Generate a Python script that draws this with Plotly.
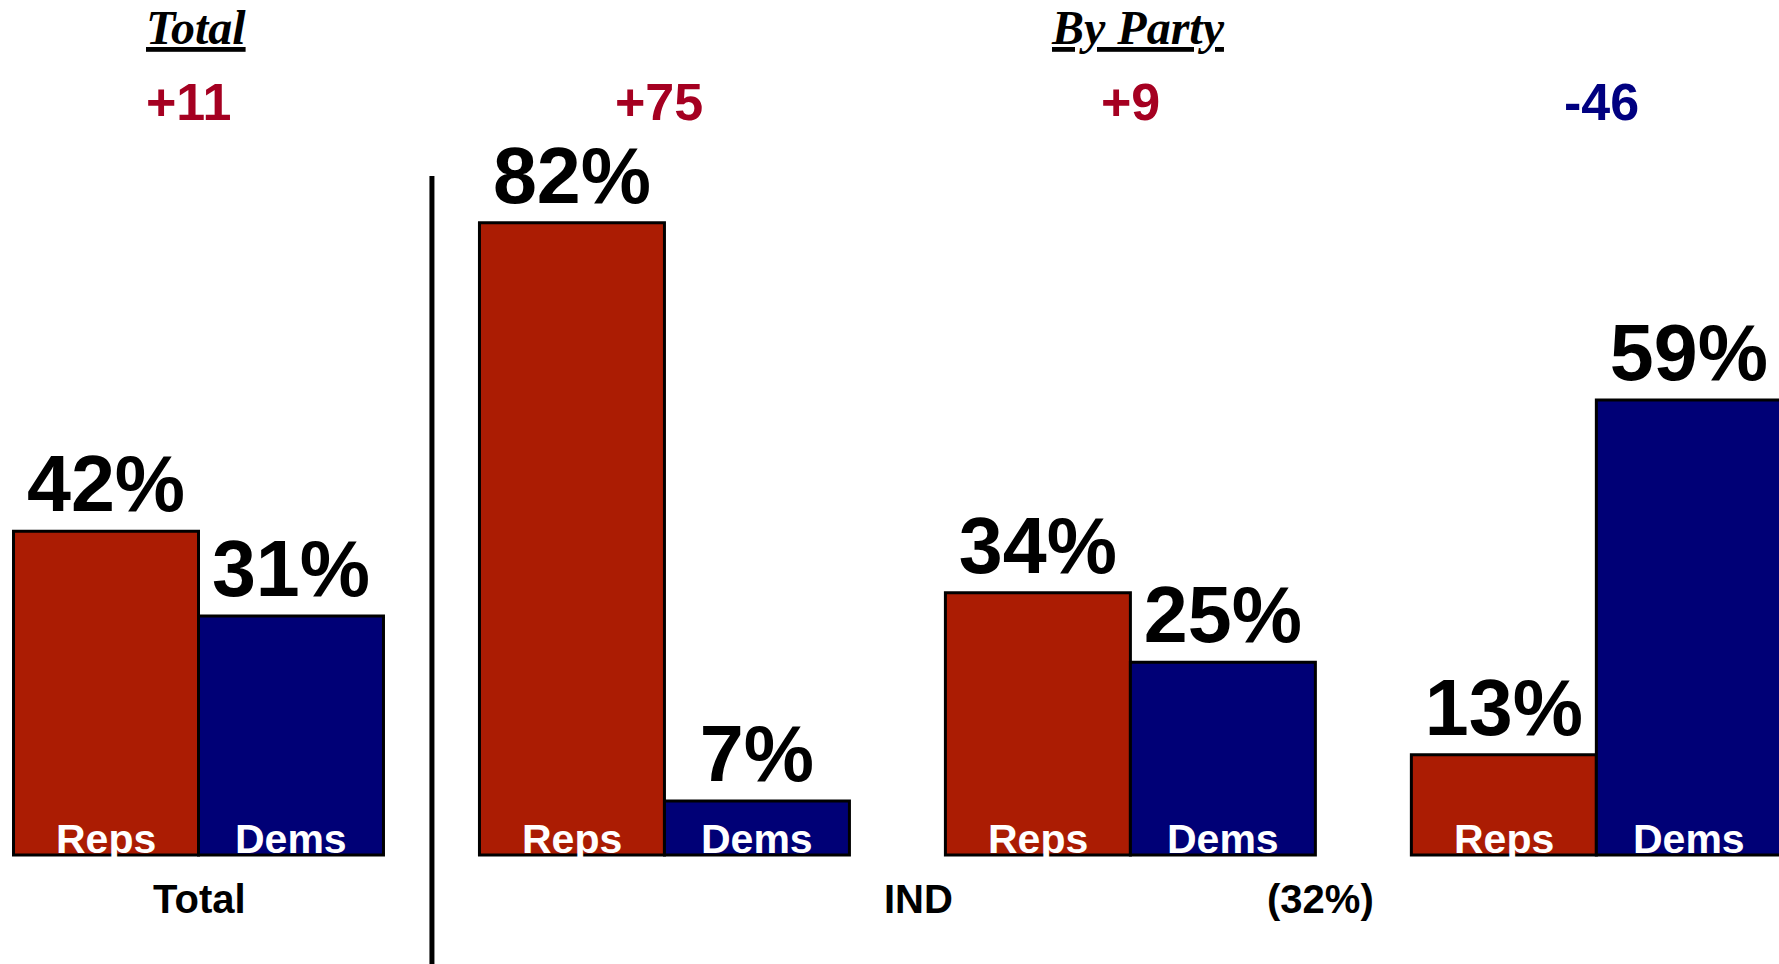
import plotly.graph_objects as go

# ---- data ----
groups = ["Total", "REP", "IND", "DEM"]
reps = [42, 82, 34, 13]
dems = [31, 7, 25, 59]
series_names = ["Reps", "Dems"]
section_titles = ["Total", "By Party"]
bottom_labels = ["Total", "IND", "(32%)"]

RED = "#AB1C03"
BLUE = "#000076"
DIFF_RED = "#A50021"
DIFF_BLUE = "#000080"
SANS = "Liberation Sans, Arial, sans-serif"
SERIF = "Liberation Serif, Times New Roman, serif"

W, H = 1779, 964
BARGAP = 0.206
half = (1 - BARGAP) / 4  # half bar width in category units

fig = go.Figure()
for name, vals, col in [(series_names[0], reps, RED), (series_names[1], dems, BLUE)]:
    fig.add_trace(go.Bar(
        name=name, x=groups, y=vals,
        marker=dict(color=col, line=dict(color="black", width=3)),
        text=[f"{v}%" for v in vals], textposition="outside",
        textfont=dict(family=SANS, size=79, color="black", weight="bold"),
        constraintext="none", cliponaxis=False, showlegend=False,
        hoverinfo="skip",
    ))

ann = []
# series labels inside bars at the bottom
for i, g in enumerate(groups):
    for name, off in [(series_names[0], -half), (series_names[1], half)]:
        ann.append(dict(x=i + off, y=0, xref="x", yref="y", text=name,
                        showarrow=False, yanchor="bottom", yshift=-9,
                        font=dict(family=SANS, size=41, color="white", weight="bold")))
# differences above each group
diff_shift = [-10, -5, 0, 5]
for i, g in enumerate(groups):
    d = reps[i] - dems[i]
    ann.append(dict(x=i, y=1 - 102 / H, xref="x", yref="paper", xshift=diff_shift[i],
                    text=f"{d:+d}", showarrow=False, yanchor="middle",
                    font=dict(family=SANS, size=52, weight="bold",
                              color=DIFF_RED if d > 0 else DIFF_BLUE)))
# section titles
for t, xpos in zip(section_titles, [-0.005, 2.016]):
    ann.append(dict(x=xpos, y=1 - 27 / H, xref="x", yref="paper", text=t,
                    showarrow=False, yanchor="middle",
                    font=dict(family=SERIF, size=48, color="black", style="italic",
                              weight="bold", lineposition="under")))
# bottom labels
for t, xpos in zip(bottom_labels, [0.003, 1.546, 2.409]):
    ann.append(dict(x=xpos, y=1 - 899 / H, xref="x", yref="paper", text=t,
                    showarrow=False, yanchor="middle",
                    font=dict(family=SANS, size=40, color="black", weight="bold")))

fig.update_layout(
    width=W, height=H, margin=dict(l=0, r=0, t=0, b=0),
    paper_bgcolor="white", plot_bgcolor="white",
    barmode="group", bargap=BARGAP, bargroupgap=0,
    annotations=ann,
    shapes=[dict(type="line", xref="x", yref="paper", x0=0.501, x1=0.501,
                 y0=0, y1=1 - 176 / H, line=dict(color="black", width=5))],
    xaxis=dict(range=[-0.426, 3.392], showticklabels=False, showgrid=False,
               zeroline=False, showline=False, ticks=""),
    yaxis=dict(range=[-(H - 855) / 7.71, 855 / 7.71], showticklabels=False,
               showgrid=False, zeroline=False, showline=False, ticks=""),
)

fig.write_html("out.html", config={"displayModeBar": False},
               post_script="document.body.style.margin='0';document.body.style.overflow='hidden';")
